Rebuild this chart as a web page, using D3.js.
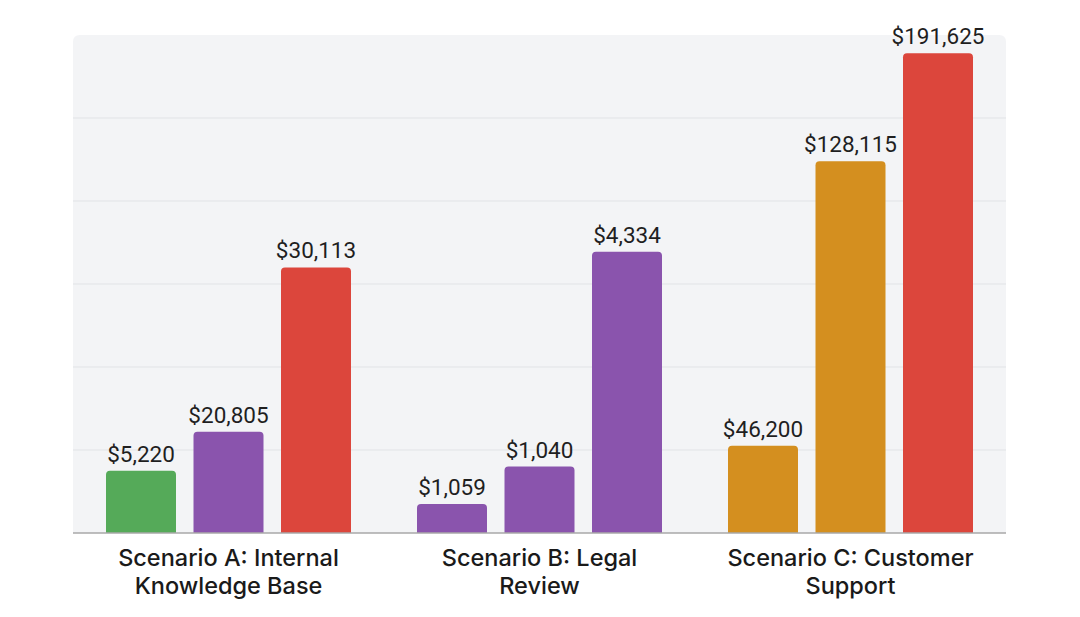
<!DOCTYPE html>
<html>
<head>
<meta charset="utf-8">
<script src="https://cdn.jsdelivr.net/npm/d3@7"></script>
<style>
  html, body { margin: 0; padding: 0; background: #ffffff; }
  svg { display: block; }
</style>
</head>
<body>
<svg id="chart" width="1080" height="617"></svg>
<script>
// Scenario cost comparison – grouped bars

const scenarios = ["Scenario A: Internal Knowledge Base", "Scenario B: Legal Review", "Scenario C: Customer Support"];
const scenarioLines = [["Scenario A: Internal", "Knowledge Base"], ["Scenario B: Legal", "Review"], ["Scenario C: Customer", "Support"]];

// dollar labels printed above each bar
const costLabels = [
  [5220, 20805, 30113],
  [1059, 1040, 4334],
  [46200, 128115, 191625]
];

// bar heights as drawn, in gridline units (the picture has no numeric axis)
const barHeights = [
  [0.75, 1.22, 3.20],
  [0.35, 0.80, 3.39],
  [1.05, 4.48, 5.78]
];

const barColors = [
  ["#55aa59", "#8a54ad", "#dc463c"],
  ["#8a54ad", "#8a54ad", "#8a54ad"],
  ["#d48f1f", "#d48f1f", "#dc463c"]
];

const gridTicks = [0, 1, 2, 3, 4, 5, 6];

const svg = d3.select("#chart");
const margin = { top: 35, right: 74, bottom: 84, left: 73 };
const width = 1080, height = 617;
const innerW = width - margin.left - margin.right;
const innerH = height - margin.top - margin.bottom;

const g = svg.append("g").attr("transform", `translate(${margin.left},${margin.top})`);

const x0 = d3.scaleBand().domain(scenarios).range([0, innerW]).padding(0);
const x1 = d3.scaleBand().domain([0, 1, 2]).range([0, 3 * 70 + 2 * 17.5]).paddingInner(0.2);
const y = d3.scaleLinear().domain([0, 6]).range([innerH, 0]);

// panel background (rounded at the top only)
const r = 7;
g.append("path")
  .attr("d", `M0,${innerH} V${r} Q0,0 ${r},0 H${innerW - r} Q${innerW},0 ${innerW},${r} V${innerH} Z`)
  .attr("fill", "#f3f4f6");

// horizontal grid
g.append("g")
  .selectAll("line")
  .data(gridTicks.filter(d => d > 0 && d < 6))
  .join("line")
  .attr("x1", 0)
  .attr("x2", innerW)
  .attr("y1", d => y(d))
  .attr("y2", d => y(d))
  .attr("stroke", "#e1e3e6")
  .attr("stroke-width", 1);

const barData = [];
scenarios.forEach((s, i) => {
  barHeights[i].forEach((h, j) => {
    barData.push({ scenario: s, idx: j, h, cost: costLabels[i][j], color: barColors[i][j] });
  });
});

const groupOffset = (x0.bandwidth() - x1.range()[1]) / 2;

function topRounded(x, yTop, w, h, rad) {
  const rr = Math.min(rad, h);
  return `M${x},${yTop + h} V${yTop + rr} Q${x},${yTop} ${x + rr},${yTop} H${x + w - rr} Q${x + w},${yTop} ${x + w},${yTop + rr} V${yTop + h} Z`;
}

g.append("g")
  .selectAll("path")
  .data(barData)
  .join("path")
  .attr("d", d => {
    const bx = x0(d.scenario) + groupOffset + x1(d.idx);
    return topRounded(bx, y(d.h), x1.bandwidth(), innerH - y(d.h), 4);
  })
  .attr("fill", d => d.color);

// value labels
g.append("g")
  .selectAll("text")
  .data(barData)
  .join("text")
  .attr("x", d => x0(d.scenario) + groupOffset + x1(d.idx) + x1.bandwidth() / 2)
  .attr("y", d => y(d.h) - 9)
  .attr("text-anchor", "middle")
  .attr("font-family", "Roboto, sans-serif")
  .attr("font-size", 22.5)
  .attr("fill", "#1f1f1f")
  .text(d => "$" + d3.format(",")(d.cost));

// baseline
g.append("line")
  .attr("x1", 0)
  .attr("x2", innerW)
  .attr("y1", innerH)
  .attr("y2", innerH)
  .attr("stroke", "#a8a8a8")
  .attr("stroke-width", 1.5);

// category labels, one text per line
const catLines = [];
scenarios.forEach((s, i) => {
  scenarioLines[i].forEach((line, k) => catLines.push({ scenario: s, line, k }));
});

g.append("g")
  .selectAll("text")
  .data(catLines)
  .join("text")
  .attr("x", d => x0(d.scenario) + x0.bandwidth() / 2)
  .attr("y", d => innerH + 33 + d.k * 27.5)
  .attr("text-anchor", "middle")
  .attr("font-family", "Inter, sans-serif")
  .attr("font-weight", 500)
  .attr("font-size", 23.5)
  .attr("fill", "#1a1a1a")
  .text(d => d.line);
</script>
</body>
</html>
